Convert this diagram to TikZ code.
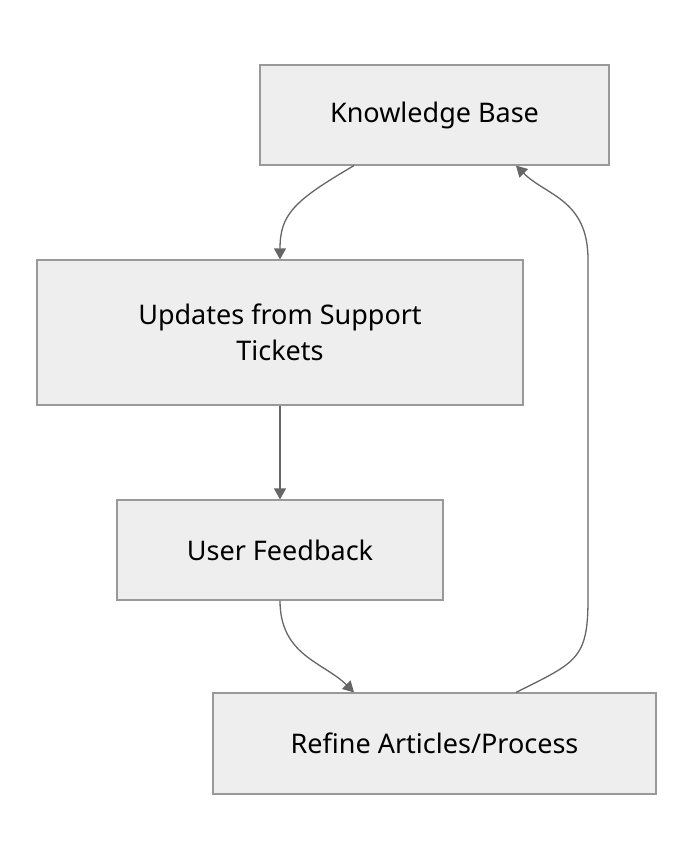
\documentclass[tikz,border=0pt]{standalone}
\usepackage{fontspec}
\setmainfont{Noto Sans}
\usetikzlibrary{arrows.meta}
\definecolor{boxfill}{HTML}{EEEEEE}
\definecolor{boxline}{HTML}{999999}
\definecolor{linkcol}{HTML}{666666}
\tikzstyle{stage}=[draw=boxline,fill=boxfill,line width=1.2pt,align=center,font=\fontsize{27}{36}\selectfont]
\tikzstyle{link}=[draw=linkcol,line width=1.3pt,-{Triangle[length=11pt,width=12pt]}]

\begin{document}
\begin{tikzpicture}[x=1pt,y=-1pt]
    \useasboundingbox (0,0) rectangle (694,860);
    \node[stage,minimum width=349pt,minimum height=100pt] (kb) at (434.5,115) {Knowledge Base};
    \node[stage,minimum width=486pt,minimum height=145pt] (upd) at (280,332.5) {Updates from Support\\Tickets};
    \node[stage,minimum width=326pt,minimum height=100pt] (fb) at (280,550) {User Feedback};
    \node[stage,minimum width=443pt,minimum height=101pt] (ref) at (434.5,743.5) {Refine Articles/Process};
    \path[link] ([xshift=-80.5pt]kb.south) .. controls +(-60,35) and +(0,-45) .. (upd.north);
    \path[link] (upd.south) -- (fb.north);
    \path[link] (fb.south) .. controls +(0,55) and +(-30,-30) .. ([xshift=-80.5pt]ref.north);
    \path[link] ([xshift=81.5pt]ref.north) .. controls +(60,-30) and +(0,60) .. ++(72,-93)
        -- ++(0,-340) .. controls +(0,-60) and +(30,30) .. ([xshift=81.5pt]kb.south);
\end{tikzpicture}
\end{document}
